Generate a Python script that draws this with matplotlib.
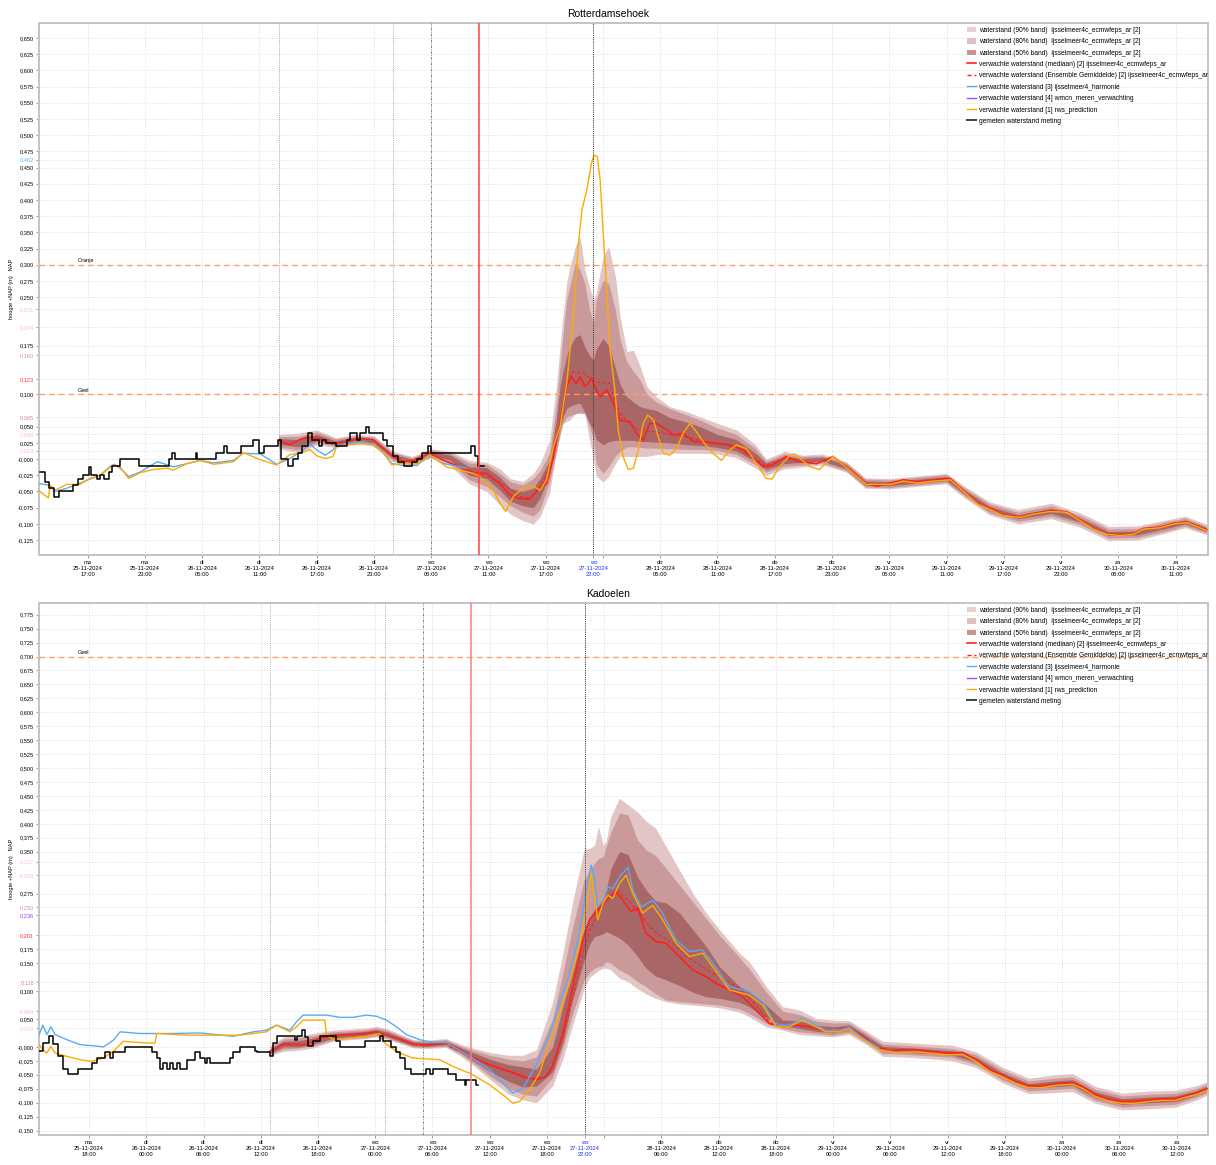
import matplotlib
matplotlib.use('Agg')
import matplotlib.pyplot as plt
from matplotlib.patches import Patch
from matplotlib.lines import Line2D
from matplotlib.transforms import blended_transform_factory
from datetime import datetime, timedelta
import numpy as np

plt.rcParams['font.family'] = ['Liberation Sans', 'DejaVu Sans']

# ---------------- Rotterdamsehoek (uren vanaf 25-11-2024 00:00) ----------------
rh_meting_h = [12.0, 12.5, 13.0, 13.5, 14.0, 15.0, 15.5, 16.0, 16.5, 17.0, 17.1, 17.3, 18.0, 18.3, 18.7,
               19.2, 19.5, 20.4, 22.4, 25.5, 25.8, 26.2, 28.3, 28.5, 30.5, 31.3, 31.6, 33.1, 34.3, 35.0,
               35.5, 36.9, 37.3, 38.0, 38.5, 39.0, 39.5, 40.1, 40.5, 41.2, 41.6, 42.0, 43.0, 44.2, 44.5,
               45.2, 45.5, 46.2, 46.5, 47.5, 48.0, 48.4, 49.0, 49.5, 50.1, 51.0, 51.5, 52.0, 52.7, 53.0,
               56.0, 57.0, 57.2, 57.6, 57.9, 58.5]
rh_meting = [-0.020, -0.035, -0.045, -0.058, -0.050, -0.050, -0.040, -0.030, -0.025, -0.025, -0.012, -0.025,
             -0.030, -0.025, -0.030, -0.020, -0.010, 0.000, -0.010, 0.000, 0.010, 0.000, 0.010, 0.000, 0.010,
             0.020, 0.010, 0.020, 0.030, 0.010, 0.020, 0.030, 0.000, -0.010, 0.000, 0.010, 0.020, 0.040,
             0.030, 0.020, 0.030, 0.025, 0.020, 0.030, 0.040, 0.030, 0.040, 0.050, 0.040, 0.040, 0.030,
             0.020, 0.005, -0.005, -0.010, -0.005, 0.000, 0.010, 0.020, 0.010, 0.010, 0.010, 0.020, 0.005,
             -0.010, -0.010]

rh_harmonie_h = [11.9, 12.9, 13.6, 14.8, 15.9, 17.2, 18.3, 19.3, 19.8, 20.4, 21.3, 22.5, 24.3, 26.0, 27.4,
                 28.8, 30.2, 32.3, 33.3, 35.1, 36.8, 38.2, 39.6, 40.3, 41.0, 41.9, 42.7, 43.1, 44.5, 45.9,
                 46.9, 47.9, 48.9, 50.1, 51.5, 52.7, 54.3, 56.7]
rh_harmonie = [-0.038, -0.040, -0.050, -0.045, -0.039, -0.031, -0.025, -0.012, -0.008, -0.014, -0.027,
               -0.020, -0.004, -0.012, -0.007, -0.002, -0.006, -0.002, 0.009, 0.008, -0.008, 0.001, 0.014,
               0.023, 0.014, 0.006, 0.014, 0.021, 0.024, 0.027, 0.023, 0.011, -0.007, -0.010, -0.010,
               0.006, -0.007, -0.014]

rh_rws_h = [11.9, 12.9, 13.05, 13.6, 14.8, 16.2, 17.2, 18.3, 19.7, 20.4, 21.3, 22.5, 23.9, 25.3, 26.0,
            27.4, 28.8, 30.2, 32.3, 33.3, 35.1, 36.8, 38.2, 39.25, 40.3, 41.0, 41.9, 42.7, 43.1, 44.5,
            45.9, 46.9, 48.0, 48.9, 49.7, 51.5, 52.9, 54.6, 56.0, 57.4, 57.9, 58.8, 59.5, 60.2, 60.8,
            61.6, 62.6, 63.7, 64.4, 65.1, 65.8, 66.5, 67.2, 67.9, 68.4, 68.8, 69.3, 69.8, 70.05, 70.4,
            70.7, 71.0, 71.4, 71.7, 72.25, 72.6, 73.1, 73.65, 74.2, 74.7, 75.2, 75.7, 76.3, 76.8, 77.3,
            78.0, 78.7, 79.4, 80.1, 80.8, 81.5, 82.4, 83.4, 84.3, 85.0, 86.05, 87.1, 88.1, 88.7, 89.5,
            90.6, 91.1, 92.7, 93.7, 95.1, 96.5, 98.6, 101.1, 102.5, 103.9, 105.6, 107.4, 108.1, 109.1,
            110.2, 111.6, 112.9, 114.7, 116.1, 117.8, 119.6, 121.0, 122.4, 123.8, 125.2, 126.6, 127.6,
            129.4, 130.8, 132.2, 133.2, 134.4]
rh_rws = [-0.049, -0.060, -0.040, -0.048, -0.039, -0.039, -0.030, -0.025, -0.009, -0.012, -0.030, -0.021,
          -0.016, -0.014, -0.017, -0.007, -0.002, -0.008, -0.004, 0.010, -0.001, -0.009, 0.007, 0.009,
          0.015, 0.005, 0.001, 0.004, 0.020, 0.022, 0.024, 0.022, 0.009, -0.009, -0.007, -0.007, 0.006,
          -0.012, -0.017, -0.022, -0.025, -0.038, -0.048, -0.068, -0.081, -0.058, -0.045, -0.042, -0.048,
          -0.032, 0.019, 0.050, 0.117, 0.220, 0.328, 0.385, 0.415, 0.457, 0.469, 0.467, 0.431, 0.354,
          0.261, 0.173, 0.107, 0.045, 0.004, -0.016, -0.014, 0.014, 0.055, 0.068, 0.060, 0.034, 0.009,
          0.006, 0.016, 0.040, 0.055, 0.042, 0.027, 0.011, -0.002, 0.014, 0.022, 0.016, -0.007, -0.030,
          -0.031, -0.012, 0.006, 0.008, -0.012, -0.016, 0.004, -0.013, -0.039, -0.039, -0.034, -0.037,
          -0.034, -0.032, -0.041, -0.054, -0.069, -0.078, -0.087, -0.090, -0.085, -0.081, -0.082, -0.095,
          -0.108, -0.116, -0.118, -0.116, -0.108, -0.106, -0.100, -0.098, -0.104, -0.111]

rh_mediaan_h = [37.1, 38.2, 39.2, 40.1, 41.3, 42.7, 44.1, 45.5, 46.9, 48.0, 49.0, 50.1, 51.1, 52.9, 54.3,
                56.0, 57.8, 58.8, 60.2, 61.25, 62.3, 63.3, 64.4, 65.1, 65.8, 66.5, 67.2, 67.7, 68.2, 68.6,
                69.1, 69.45, 69.8, 70.3, 70.7, 71.4, 72.1, 72.8, 73.8, 74.5, 75.2, 75.9, 76.6, 77.7, 78.4,
                79.4, 80.5, 81.5, 82.9, 84.3, 85.7, 86.8, 87.8, 88.8, 90.2, 91.6, 93.4, 95.1, 96.5, 97.6,
                98.6, 99.7, 101.1, 102.5, 103.9, 105.6, 107.4, 108.1, 109.1, 110.2, 111.6, 112.9, 114.7,
                116.1, 117.8, 119.6, 121.0, 122.4, 123.8, 125.2, 126.6, 127.6, 129.4, 130.8, 132.2, 133.2,
                134.4]
rh_mediaan = [0.028, 0.022, 0.030, 0.034, 0.032, 0.024, 0.027, 0.032, 0.030, 0.016, 0.004, -0.004, -0.002,
              0.009, -0.002, -0.012, -0.022, -0.022, -0.038, -0.056, -0.061, -0.062, -0.043, -0.038, 0.004,
              0.055, 0.112, 0.127, 0.117, 0.127, 0.112, 0.117, 0.125, 0.107, 0.096, 0.107, 0.086, 0.060,
              0.058, 0.040, 0.029, 0.055, 0.055, 0.045, 0.037, 0.040, 0.027, 0.027, 0.024, 0.022, 0.014,
              0.001, -0.012, -0.009, 0.004, -0.004, -0.007, 0.004, -0.012, -0.025, -0.038, -0.042, -0.037,
              -0.032, -0.035, -0.032, -0.030, -0.040, -0.053, -0.068, -0.076, -0.086, -0.089, -0.084,
              -0.080, -0.081, -0.094, -0.107, -0.115, -0.117, -0.115, -0.107, -0.105, -0.099, -0.097,
              -0.103, -0.110]

rh_gemiddelde_h = [57.8, 60.2, 62.3, 63.3, 64.4, 65.8, 66.5, 67.2, 67.9, 68.9, 69.6, 70.3, 71.0, 71.7, 72.4,
                   73.1, 74.0, 74.9, 77.3, 79.75, 81.15, 83.0, 85.0, 87.0, 88.0, 90.0, 91.6]
rh_gemiddelde = [-0.020, -0.036, -0.058, -0.060, -0.045, 0.000, 0.058, 0.118, 0.135, 0.133, 0.125, 0.119,
                 0.118, 0.117, 0.081, 0.065, 0.052, 0.045, 0.040, 0.034, 0.029, 0.025, 0.018, 0.000,
                 -0.010, 0.002, -0.003]

rh_band_h = [37, 39, 41, 43, 45, 47, 49, 51, 53, 55, 57, 58.8, 60.2, 61.3, 62.6, 63.7, 64.4, 65.4, 66.1,
             66.5, 66.8, 67.2, 67.5, 68.1, 68.6, 69.1, 69.6, 70.0, 70.3, 71.0, 71.6, 72.3, 72.8, 73.5,
             74.2, 74.9, 75.6, 76.6, 78.0, 79.8, 81.2, 83.0, 85.0, 87.0, 88.1, 90.0, 92.0, 94.0, 96.5,
             98.5, 101, 104, 107, 109, 111.5, 114.5, 118, 121, 124, 127, 130, 132, 134.5]
rh_b90_hoog = [0.038, 0.040, 0.045, 0.033, 0.038, 0.036, 0.012, 0.004, 0.016, 0.012,
               -0.002, -0.005, -0.015, -0.030, -0.035, -0.022, -0.007, 0.029, 0.110, 0.173,
               0.220, 0.271, 0.295, 0.328, 0.343, 0.292, 0.265, 0.246, 0.256, 0.312,
               0.328, 0.282, 0.220, 0.166, 0.168, 0.143, 0.112, 0.096, 0.081, 0.073,
               0.065, 0.055, 0.045, 0.022, 0.000, 0.012, 0.006, 0.008, -0.004, -0.029,
               -0.030, -0.026, -0.022, -0.043, -0.066, -0.078, -0.068, -0.083, -0.104, -0.103,
               -0.094, -0.088, -0.102]
rh_b90_laag = [0.016, 0.010, 0.022, 0.018, 0.024, 0.020, -0.004, -0.010, 0.002, -0.010,
               -0.038, -0.050, -0.070, -0.085, -0.095, -0.100, -0.089, -0.053, 0.009, 0.035,
               0.055, 0.058, 0.060, 0.070, 0.070, 0.070, 0.029, 0.000, -0.027, -0.035,
               -0.027, -0.007, 0.004, 0.004, 0.004, 0.004, 0.004, 0.007, 0.009, 0.009,
               0.009, 0.008, 0.002, -0.014, -0.025, -0.015, -0.012, -0.009, -0.020, -0.045,
               -0.046, -0.042, -0.038, -0.061, -0.086, -0.100, -0.092, -0.105, -0.126, -0.125,
               -0.114, -0.106, -0.118]
rh_b80_hoog = [0.035, 0.035, 0.042, 0.031, 0.036, 0.034, 0.010, 0.002, 0.014, 0.009,
               -0.006, -0.008, -0.022, -0.035, -0.040, -0.030, -0.018, 0.009, 0.080, 0.143,
               0.190, 0.246, 0.265, 0.302, 0.292, 0.270, 0.230, 0.210, 0.246, 0.276,
               0.271, 0.230, 0.184, 0.150, 0.135, 0.122, 0.100, 0.088, 0.078, 0.068,
               0.060, 0.048, 0.038, 0.016, -0.003, 0.008, 0.004, 0.005, -0.006, -0.031,
               -0.032, -0.028, -0.024, -0.046, -0.069, -0.082, -0.072, -0.087, -0.108, -0.107,
               -0.097, -0.091, -0.105]
rh_b80_laag = [0.019, 0.014, 0.025, 0.020, 0.026, 0.022, -0.002, -0.008, 0.004, -0.006,
               -0.032, -0.042, -0.058, -0.072, -0.082, -0.088, -0.078, -0.035, 0.010, 0.040,
               0.055, 0.065, 0.067, 0.070, 0.072, 0.070, 0.050, 0.030, -0.007, -0.022,
               -0.012, 0.005, 0.012, 0.019, 0.019, 0.018, 0.017, 0.017, 0.016, 0.015,
               0.015, 0.013, 0.007, -0.009, -0.020, -0.011, -0.009, -0.006, -0.018, -0.043,
               -0.044, -0.040, -0.036, -0.058, -0.083, -0.096, -0.088, -0.101, -0.122, -0.121,
               -0.111, -0.103, -0.115]
rh_b50_hoog = [0.032, 0.030, 0.038, 0.028, 0.034, 0.031, 0.007, 0.000, 0.012, 0.006,
               -0.012, -0.013, -0.028, -0.045, -0.050, -0.045, -0.030, -0.002, 0.060, 0.112,
               0.135, 0.160, 0.172, 0.188, 0.192, 0.173, 0.160, 0.153, 0.170, 0.186,
               0.175, 0.140, 0.115, 0.096, 0.088, 0.081, 0.078, 0.075, 0.064, 0.057,
               0.050, 0.038, 0.030, 0.009, -0.006, 0.004, 0.001, 0.003, -0.009, -0.034,
               -0.035, -0.031, -0.027, -0.049, -0.073, -0.086, -0.076, -0.091, -0.112, -0.111,
               -0.101, -0.094, -0.107]
rh_b50_laag = [0.023, 0.019, 0.028, 0.022, 0.028, 0.025, 0.001, -0.006, 0.006, -0.002,
               -0.025, -0.030, -0.048, -0.065, -0.072, -0.075, -0.060, -0.025, 0.025, 0.050,
               0.065, 0.078, 0.081, 0.085, 0.086, 0.072, 0.055, 0.045, 0.030, 0.022,
               0.027, 0.029, 0.029, 0.029, 0.029, 0.027, 0.027, 0.026, 0.025, 0.022,
               0.021, 0.018, 0.012, -0.004, -0.016, -0.007, -0.005, -0.003, -0.015, -0.040,
               -0.041, -0.037, -0.033, -0.055, -0.079, -0.092, -0.084, -0.097, -0.118, -0.117,
               -0.107, -0.100, -0.113]

rh_extra_ticks = [0.462, 0.231, 0.204, 0.160, 0.123, 0.065, 0.038, 0.013]
rh_extra_kleuren = ['#64aaff', '#f0c4c4', '#ecc0c0', '#d99494', '#ff3030', '#d08a8a', '#f0c4c4', '#f0c4c4']
rh_drempels = [(0.300, 'Oranje'), (0.100, 'Geel')]

# ---------------- Kadoelen ----------------
kd_meting_h = [12.76, 13.22, 13.85, 14.27, 14.79, 15.31, 15.84, 16.88, 18.28, 18.80, 19.68, 20.20, 20.55,
               21.77, 24.56, 25.09, 25.43, 25.78, 26.13, 26.48, 26.83, 27.18, 27.53, 28.23, 29.10, 29.62,
               30.15, 30.32, 30.67, 32.76, 33.11, 33.81, 35.38, 35.56, 36.95, 37.30, 37.65, 39.57, 39.75,
               40.27, 40.62, 40.97, 41.49, 42.19, 43.93, 44.28, 46.90, 48.47, 48.82, 49.69, 50.22, 50.56,
               51.09, 51.79, 53.36, 53.71, 54.06, 55.63, 56.50, 57.37, 57.55, 58.59, 58.77]
kd_meting = [-0.008, 0.007, 0.020, 0.005, -0.017, -0.040, -0.049, -0.040, -0.029, -0.020, -0.010, -0.020,
             -0.010, 0.000, -0.010, -0.020, -0.039, -0.029, -0.039, -0.029, -0.039, -0.029, -0.039, -0.024,
             -0.010, -0.020, -0.029, -0.020, -0.029, -0.020, -0.010, 0.000, -0.008, -0.010, -0.017, 0.007,
             0.020, 0.012, 0.020, 0.030, 0.018, 0.002, 0.011, 0.020, 0.011, 0.000, 0.011, 0.020, 0.011,
             0.000, -0.010, -0.020, -0.039, -0.049, -0.039, -0.049, -0.039, -0.049, -0.059, -0.068, -0.059,
             -0.069, -0.069]

kd_harmonie_h = [12.76, 13.15, 13.57, 13.99, 14.44, 15.66, 17.06, 18.45, 19.5, 20.55, 21.25, 23.34, 26.83,
                 29.62, 33.11, 35.21, 36.6, 37.65, 39.05, 39.75, 40.44, 42.89, 44.28, 45.68, 47.07, 48.12,
                 49.17, 50.22, 51.27, 52.66, 54.06, 55.45, 55.8, 57.9, 60.0, 61.4, 62.4, 63.5, 64.9, 66.3,
                 67.3, 68.4, 69.4, 70.1, 70.64, 71.0, 71.3, 71.9, 72.4, 72.9, 73.6, 74.5, 75.0, 75.9, 77.1,
                 78.1, 79.5, 80.9, 82.3, 83.4, 85.1, 87.2, 88.6, 90.0, 91.4, 92.8, 94.2, 95.2, 96.6, 97.7,
                 99.1, 100.8]
kd_harmonie = [0.022, 0.039, 0.022, 0.036, 0.022, 0.013, 0.004, 0.002, 0.000, 0.012, 0.027, 0.024, 0.024,
               0.025, 0.019, 0.027, 0.030, 0.039, 0.030, 0.045, 0.057, 0.057, 0.053, 0.053, 0.057, 0.055,
               0.048, 0.036, 0.022, 0.013, 0.008, 0.008, 0.004, -0.017, -0.041, -0.065, -0.083, -0.074,
               -0.032, 0.024, 0.078, 0.132, 0.204, 0.281, 0.326, 0.299, 0.250, 0.263, 0.287, 0.284, 0.305,
               0.322, 0.281, 0.251, 0.263, 0.240, 0.192, 0.171, 0.174, 0.150, 0.108, 0.099, 0.081, 0.039,
               0.039, 0.051, 0.039, 0.030, 0.030, 0.035, 0.016, -0.002]

kd_rws_h = [12.76, 13.15, 13.57, 13.99, 14.44, 15.66, 17.06, 18.28, 19.5, 20.55, 21.6, 24.04, 24.91, 25.09,
            28.23, 31.02, 33.81, 36.6, 37.65, 39.05, 39.75, 40.44, 42.71, 42.89, 43.59, 47.07, 48.47, 48.82,
            49.52, 50.56, 51.96, 54.75, 56.15, 57.55, 57.9, 60.0, 61.4, 62.43, 63.13, 64.18, 65.22, 66.27,
            67.32, 68.37, 69.41, 70.11, 70.63, 70.98, 71.33, 71.86, 72.38, 72.9, 73.6, 74.3, 75.0, 76.04,
            77.09, 78.14, 79.53, 80.93, 82.33, 83.37, 85.12, 87.21, 88.61, 90.01, 91.4, 92.8, 94.19,
            95.24, 96.64, 97.68, 99.08, 100.83, 102.57, 104.7, 106.1, 107.8, 109.6, 111.0, 112.4, 113.7,
            115.1, 116.5, 117.9, 119.3, 121.1, 122.1, 123.5, 124.9, 126.3, 127.7, 129.1, 130.5, 131.9,
            132.6, 134.0, 135.2]
kd_rws = [0.004, -0.005, -0.011, 0.001, -0.011, -0.017, -0.023, -0.026, -0.020, -0.008, 0.010, 0.007, 0.007,
          0.024, 0.021, 0.021, 0.021, 0.027, 0.039, 0.027, 0.036, 0.048, 0.048, 0.022, 0.013, 0.019, 0.024,
          0.010, 0.000, -0.011, -0.020, -0.023, -0.035, -0.045, -0.047, -0.068, -0.086, -0.101, -0.098,
          -0.077, -0.047, 0.007, 0.060, 0.114, 0.180, 0.251, 0.311, 0.269, 0.228, 0.257, 0.272, 0.266,
          0.293, 0.308, 0.275, 0.240, 0.254, 0.228, 0.186, 0.162, 0.168, 0.144, 0.102, 0.093, 0.075,
          0.036, 0.036, 0.048, 0.036, 0.027, 0.027, 0.032, 0.013, -0.005, -0.010, -0.009, -0.011, -0.014,
          -0.014, -0.026, -0.044, -0.053, -0.065, -0.073, -0.073, -0.069, -0.067, -0.074, -0.089, -0.097,
          -0.101, -0.101, -0.098, -0.096, -0.096, -0.092, -0.086, -0.078]

kd_mediaan_h = [36.95, 38.35, 40.79, 42.19, 43.58, 45.33, 47.07, 48.12, 49.17, 50.56, 51.96, 53.36, 55.45,
                56.85, 57.9, 60.0, 62.08, 63.48, 64.88, 65.92, 66.62, 67.67, 68.71, 69.76, 70.46, 71.16,
                71.86, 72.55, 73.25, 73.95, 74.82, 75.52, 76.39, 77.44, 78.49, 79.88, 81.28, 82.68, 83.72,
                85.12, 86.52, 87.91, 89.31, 90.7, 92.1, 93.5, 94.89, 96.29, 97.68, 99.1, 100.5, 101.9,
                103.3, 104.7, 106.1, 107.8, 109.6, 111.0, 112.4, 113.7, 115.1, 116.5, 117.9, 119.3, 121.1,
                122.1, 123.5, 124.9, 126.3, 127.7, 129.1, 130.5, 131.9, 132.6, 134.0, 135.2]
kd_mediaan = [-0.008, 0.005, 0.004, 0.016, 0.020, 0.022, 0.024, 0.027, 0.021, 0.014, 0.005, 0.003, 0.007,
              -0.005, -0.017, -0.032, -0.044, -0.053, -0.059, -0.053, -0.035, 0.024, 0.108, 0.192, 0.228,
              0.243, 0.257, 0.269, 0.278, 0.263, 0.243, 0.249, 0.204, 0.189, 0.186, 0.162, 0.138, 0.126,
              0.114, 0.102, 0.090, 0.066, 0.042, 0.036, 0.039, 0.036, 0.030, 0.030, 0.035, 0.019, 0.001,
              -0.007, -0.005, -0.005, -0.008, -0.011, -0.010, -0.023, -0.041, -0.050, -0.062, -0.070,
              -0.070, -0.066, -0.064, -0.071, -0.086, -0.094, -0.098, -0.098, -0.095, -0.093, -0.093,
              -0.089, -0.083, -0.075]

kd_gemiddelde_h = [55.8, 58.0, 60.0, 62.0, 64.0, 65.9, 66.6, 67.7, 68.7, 69.8, 70.5, 71.5, 72.5, 73.3,
                   74.65, 75.7, 76.75, 77.8, 79.2, 80.6, 82.0, 83.4, 84.8, 86.2, 87.9, 89.3, 90.7, 92.1]
kd_gemiddelde = [0.000, -0.017, -0.032, -0.045, -0.057, -0.055, -0.030, 0.020, 0.090, 0.170, 0.210, 0.245,
                 0.268, 0.281, 0.260, 0.240, 0.216, 0.200, 0.186, 0.162, 0.147, 0.132, 0.120, 0.105,
                 0.075, 0.045, 0.036, 0.039]

kd_band_h = [37.0, 38.4, 40.0, 41.5, 43.5, 45.3, 47.0, 48.1, 49.2, 50.6, 52.0, 53.4, 55.4, 56.9, 58.2,
             60.0, 62.0, 63.5, 64.9, 66.6, 67.7, 68.7, 69.9, 70.5, 71.0, 71.4, 71.9, 72.2, 72.7, 73.6,
             74.5, 75.5, 76.4, 77.4, 78.5, 79.9, 81.3, 82.7, 84.1, 86.2, 87.2, 89.0, 90.7, 92.5, 94.2,
             96.0, 97.7, 99.4, 101.2, 103.3, 106.1, 108.5, 111.0, 113.7, 116.5, 119.3, 121.1, 123.5,
             126.3, 129.1, 131.9, 134.0, 135.3]
kd_b90_hoog = [0.002, 0.018, 0.020, 0.024, 0.030, 0.032, 0.034, 0.037, 0.033, 0.023,
               0.013, 0.012, 0.015, 0.005, -0.002, -0.010, -0.015, -0.015, -0.005, 0.080,
               0.170, 0.260, 0.355, 0.356, 0.362, 0.395, 0.362, 0.368, 0.413, 0.446,
               0.434, 0.421, 0.405, 0.392, 0.359, 0.317, 0.275, 0.240, 0.210, 0.168,
               0.153, 0.108, 0.072, 0.066, 0.051, 0.048, 0.047, 0.029, 0.010, 0.008,
               0.005, 0.003, -0.009, -0.036, -0.056, -0.050, -0.048, -0.071, -0.083, -0.079,
               -0.078, -0.070, -0.062]
kd_b90_laag = [-0.015, -0.008, -0.006, -0.002, 0.010, 0.013, 0.015, 0.018, 0.014, 0.006,
               -0.002, -0.003, -0.001, -0.016, -0.032, -0.058, -0.085, -0.095, -0.100, -0.070,
               -0.020, 0.040, 0.105, 0.125, 0.132, 0.137, 0.141, 0.141, 0.138, 0.123,
               0.117, 0.104, 0.095, 0.087, 0.081, 0.077, 0.075, 0.073, 0.070, 0.062,
               0.054, 0.036, 0.030, 0.022, 0.020, 0.018, 0.022, 0.005, -0.017, -0.018,
               -0.021, -0.025, -0.037, -0.064, -0.084, -0.082, -0.080, -0.101, -0.113, -0.111,
               -0.108, -0.096, -0.086]
kd_b80_hoog = [0.000, 0.014, 0.016, 0.020, 0.027, 0.029, 0.031, 0.034, 0.030, 0.020,
               0.011, 0.010, 0.013, 0.002, -0.006, -0.015, -0.022, -0.025, -0.018, 0.050,
               0.135, 0.215, 0.300, 0.317, 0.330, 0.338, 0.341, 0.359, 0.385, 0.419,
               0.416, 0.371, 0.353, 0.343, 0.320, 0.290, 0.260, 0.230, 0.200, 0.160,
               0.140, 0.098, 0.064, 0.058, 0.046, 0.043, 0.043, 0.025, 0.005, 0.003,
               0.000, -0.003, -0.014, -0.041, -0.061, -0.056, -0.054, -0.076, -0.088, -0.085,
               -0.083, -0.075, -0.066]
kd_b80_laag = [-0.013, -0.004, -0.002, 0.002, 0.012, 0.015, 0.017, 0.020, 0.016, 0.008,
               0.000, -0.001, 0.001, -0.012, -0.028, -0.052, -0.075, -0.085, -0.088, -0.055,
               0.000, 0.060, 0.120, 0.135, 0.141, 0.144, 0.146, 0.153, 0.150, 0.138,
               0.130, 0.117, 0.108, 0.095, 0.084, 0.081, 0.079, 0.077, 0.075, 0.068,
               0.060, 0.042, 0.033, 0.027, 0.024, 0.021, 0.026, 0.009, -0.012, -0.013,
               -0.016, -0.019, -0.032, -0.059, -0.079, -0.076, -0.074, -0.096, -0.108, -0.105,
               -0.103, -0.091, -0.082]
kd_b50_hoog = [-0.003, 0.010, 0.011, 0.016, 0.024, 0.026, 0.028, 0.031, 0.027, 0.018,
               0.009, 0.008, 0.010, -0.001, -0.010, -0.022, -0.032, -0.036, -0.040, 0.000,
               0.075, 0.140, 0.210, 0.230, 0.248, 0.255, 0.265, 0.281, 0.320, 0.350,
               0.345, 0.305, 0.281, 0.262, 0.258, 0.240, 0.210, 0.180, 0.144, 0.108,
               0.100, 0.075, 0.048, 0.047, 0.039, 0.036, 0.039, 0.021, 0.001, -0.001,
               -0.004, -0.007, -0.019, -0.046, -0.066, -0.061, -0.059, -0.081, -0.093, -0.090,
               -0.088, -0.079, -0.070]
kd_b50_laag = [-0.011, 0.000, 0.000, 0.005, 0.015, 0.018, 0.020, 0.023, 0.019, 0.010,
               0.002, 0.001, 0.004, -0.009, -0.024, -0.044, -0.062, -0.072, -0.070, -0.045,
               0.010, 0.085, 0.155, 0.185, 0.198, 0.200, 0.203, 0.207, 0.203, 0.195,
               0.183, 0.162, 0.141, 0.127, 0.120, 0.110, 0.098, 0.090, 0.087, 0.080,
               0.072, 0.052, 0.038, 0.033, 0.028, 0.025, 0.030, 0.013, -0.007, -0.009,
               -0.012, -0.015, -0.027, -0.054, -0.074, -0.071, -0.069, -0.091, -0.103, -0.100,
               -0.098, -0.087, -0.078]

kd_extra_ticks = [0.332, 0.308, 0.250, 0.236, 0.201, 0.116, 0.064, 0.033]
kd_extra_kleuren = ['#f0c8c8', '#f0c8c8', '#d99494', '#9040ff', '#ff3030', '#d08a8a', '#ecc0c0', '#f0c8c8']
kd_drempels = [(0.700, 'Geel')]

legenda_teksten = [
    'waterstand (90% band)  ijsselmeer4c_ecmwfeps_ar [2]',
    'waterstand (80% band)  ijsselmeer4c_ecmwfeps_ar [2]',
    'waterstand (50% band)  ijsselmeer4c_ecmwfeps_ar [2]',
    'verwachte waterstand (mediaan) [2] ijsselmeer4c_ecmwfeps_ar',
    'verwachte waterstand (Ensemble Gemiddelde) [2] ijsselmeer4c_ecmwfeps_ar',
    'verwachte waterstand [3] ijsselmeer4_harmonie',
    'verwachte waterstand [4] wmcn_meren_verwachting',
    'verwachte waterstand [1] rws_prediction',
    'gemeten waterstand meting',
]

basis = datetime(2024, 11, 25)
dagen = ['ma', 'di', 'wo', 'do', 'vr', 'za', 'zo']

KLEUR_90 = '#e2c5c5'
KLEUR_80 = '#ca9a9a'
KLEUR_50 = '#a96666'
ROOD = '#ff2020'
BLAUW = '#5aaaf8'
ORANJE = '#ffaa00'


def tijden(uren):
    return [basis + timedelta(hours=u) for u in uren]


def teken_paneel(ax, titel, d, x_van, x_tot, eerste_tick, y_van, y_tot, y_stap, extra, extra_kl, drempels, rood_kleur):
    ax.fill_between(tijden(d['band_h']), d['b90_laag'], d['b90_hoog'], color=KLEUR_90, lw=0, zorder=2)
    ax.fill_between(tijden(d['band_h']), d['b80_laag'], d['b80_hoog'], color=KLEUR_80, lw=0, zorder=2)
    ax.fill_between(tijden(d['band_h']), d['b50_laag'], d['b50_hoog'], color=KLEUR_50, lw=0, zorder=2)
    ax.plot(tijden(d['mediaan_h']), d['mediaan'], color=ROOD, lw=1.2, zorder=4)
    ax.plot(tijden(d['gem_h']), d['gem'], color=ROOD, lw=0.8, dashes=(3, 2), zorder=4)
    ax.plot(tijden(d['harm_h']), d['harm'], color=BLAUW, lw=1.0, zorder=5)
    ax.plot(tijden(d['rws_h']), d['rws'], color=ORANJE, lw=1.0, zorder=6)
    ax.plot(tijden(d['meting_h']), d['meting'], color='black', lw=1.1, drawstyle='steps-post', zorder=7)

    # verticale markeringen
    ax.axvline(basis + timedelta(hours=37), color='#909090', lw=0.6, ls=(0, (1, 1.5)), zorder=3)
    ax.axvline(basis + timedelta(hours=49), color='#909090', lw=0.6, ls=(0, (1, 1.5)), zorder=3)
    ax.axvline(basis + timedelta(hours=53), color='#707070', lw=0.6, ls=(0, (3, 1.5, 1, 1.5)), zorder=3)
    ax.axvline(basis + timedelta(hours=58), color=rood_kleur, lw=1.1, zorder=8)
    ax.axvline(basis + timedelta(hours=70), color='#303030', lw=0.7, ls=(0, (1, 1.2)), zorder=8)

    trans = blended_transform_factory(ax.transAxes, ax.transData)
    for niveau, naam in drempels:
        ax.axhline(niveau, color='#ffa060', lw=1.0, ls=(0, (4, 3)), zorder=3)
        ax.text(0.033, niveau + 0.002, naam, transform=trans, fontsize=4, va='bottom', ha='left')

    ax.set_xlim(basis + timedelta(hours=x_van), basis + timedelta(hours=x_tot))
    ax.set_ylim(y_van, y_tot)

    # x-ticks elke 6 uur + 22:00 (label naast 22:00 vervalt, rasterlijn blijft)
    tick_uren = []
    u = eerste_tick
    while u < x_tot:
        tick_uren.append(u)
        u += 6
    tick_uren = sorted(tick_uren + [70])
    tick_data = tijden(tick_uren)
    labels = []
    for t, u in zip(tick_data, tick_uren):
        if u != 70 and abs(u - 70) <= 2:
            labels.append('')
        else:
            labels.append(f"{dagen[t.weekday()]}\n{t:%d-%m-%Y}\n{t:%H:%M}")
    ax.set_xticks(tick_data)
    ax.set_xticklabels(labels, fontsize=4.2, linespacing=1.3)
    for lab, u in zip(ax.get_xticklabels(), tick_uren):
        if u == 70:
            lab.set_color('#2030ff')

    # y-ticks: gewone stappen, behalve vlak bij een extra (gekleurde) waarde
    gewoon = list(np.round(np.arange(y_van + (-y_van % y_stap), y_tot, y_stap), 3))
    gewoon = [g for g in gewoon if g >= y_van and min(abs(g - e) for e in extra) > 0.0115]
    alle = gewoon + extra
    ax.set_yticks(alle)
    ax.set_yticklabels([f"{v:.3f}".replace('.', ',') for v in alle], fontsize=4.1)
    for lab, v in zip(ax.get_yticklabels(), alle):
        if v in extra:
            lab.set_color(extra_kl[extra.index(v)])

    ax.tick_params(axis='both', length=2, width=0.5, color='#707070', pad=1.5)
    ax.grid(True, color='#d2d2d2', lw=0.6, ls=(0, (1, 2)), zorder=0)
    for s in ax.spines.values():
        s.set_color('#c4c4c4')
        s.set_linewidth(1.4)
    ax.set_title(titel, fontsize=7.5, pad=4.5, x=(608 - 39) / 1169)

    handles = [
        Patch(facecolor='#e8cfcf', edgecolor='none'),
        Patch(facecolor='#dfc0c0', edgecolor='none'),
        Patch(facecolor='#c99494', edgecolor='none'),
        Line2D([], [], color=ROOD, lw=1.2),
        Line2D([], [], color=ROOD, lw=1.0, dashes=(3, 2)),
        Line2D([], [], color=BLAUW, lw=1.0),
        Line2D([], [], color='#a050ff', lw=1.0),
        Line2D([], [], color=ORANJE, lw=1.0),
        Line2D([], [], color='#404040', lw=1.4),
    ]
    ax.legend(handles, legenda_teksten, loc='upper left', bbox_to_anchor=(0.7938, 0.993), frameon=False,
              fontsize=4.8, handlelength=1.4, handleheight=0.9, handletextpad=0.45, labelspacing=0.65,
              borderpad=0, borderaxespad=0)


fig = plt.figure(figsize=(12.16, 11.65), dpi=100)
ax1 = fig.add_axes([39 / 1216, 1 - 555 / 1165, 1169 / 1216, 532 / 1165])
ax2 = fig.add_axes([39 / 1216, 1 - 1135 / 1165, 1169 / 1216, 532 / 1165])

rh = dict(meting_h=rh_meting_h, meting=rh_meting, harm_h=rh_harmonie_h, harm=rh_harmonie,
          rws_h=rh_rws_h, rws=rh_rws, mediaan_h=rh_mediaan_h, mediaan=rh_mediaan,
          gem_h=rh_gemiddelde_h, gem=rh_gemiddelde, band_h=rh_band_h,
          b90_hoog=rh_b90_hoog, b90_laag=rh_b90_laag, b80_hoog=rh_b80_hoog, b80_laag=rh_b80_laag,
          b50_hoog=rh_b50_hoog, b50_laag=rh_b50_laag)
kd = dict(meting_h=kd_meting_h, meting=kd_meting, harm_h=kd_harmonie_h, harm=kd_harmonie,
          rws_h=kd_rws_h, rws=kd_rws, mediaan_h=kd_mediaan_h, mediaan=kd_mediaan,
          gem_h=kd_gemiddelde_h, gem=kd_gemiddelde, band_h=kd_band_h,
          b90_hoog=kd_b90_hoog, b90_laag=kd_b90_laag, b80_hoog=kd_b80_hoog, b80_laag=kd_b80_laag,
          b50_hoog=kd_b50_hoog, b50_laag=kd_b50_laag)

teken_paneel(ax1, 'Rotterdamsehoek', rh, 11.9, 134.4, 17, -0.148, 0.673, 0.025,
             rh_extra_ticks, rh_extra_kleuren, rh_drempels, '#ff4040')
teken_paneel(ax2, 'Kadoelen', kd, 12.75, 135.3, 18, -0.158, 0.796, 0.025,
             kd_extra_ticks, kd_extra_kleuren, kd_drempels, '#f08080')

fig.text(12 / 1216, 1 - 289 / 1165, 'hoogte +NAP (m)   NAP', rotation=90, fontsize=4.1, ha='center', va='center')
fig.text(12 / 1216, 1 - 869 / 1165, 'hoogte +NAP (m)   NAP', rotation=90, fontsize=4.1, ha='center', va='center')

fig.savefig('out.png', dpi=100)
